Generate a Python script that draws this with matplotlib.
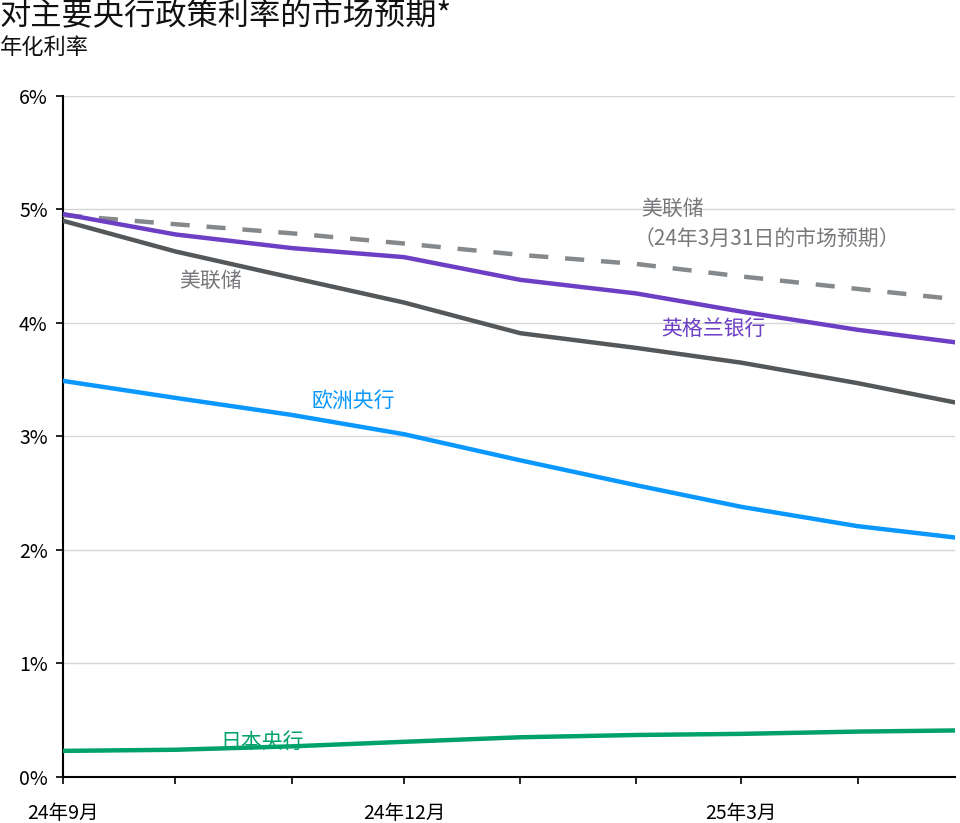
import matplotlib
matplotlib.use('Agg')
import matplotlib.pyplot as plt
import matplotlib.ticker as mticker
import pandas as pd

plt.rcParams['font.family'] = ['Noto Sans CJK SC', 'DejaVu Sans']

# month starts plus the last observation
dates = pd.to_datetime(['2024-09-01', '2024-10-01', '2024-11-01', '2024-12-01',
                        '2025-01-01', '2025-02-01', '2025-03-01', '2025-04-01',
                        '2025-04-27'])
fed = [4.90, 4.63, 4.40, 4.18, 3.91, 3.78, 3.65, 3.47, 3.30]
fed_mar24 = [4.95, 4.87, 4.79, 4.70, 4.60, 4.52, 4.41, 4.30, 4.21]
boe = [4.96, 4.78, 4.66, 4.58, 4.38, 4.26, 4.10, 3.94, 3.83]
ecb = [3.49, 3.34, 3.19, 3.02, 2.79, 2.57, 2.38, 2.21, 2.11]
boj = [0.23, 0.24, 0.27, 0.31, 0.35, 0.37, 0.38, 0.40, 0.41]

yticks = [0, 1, 2, 3, 4, 5, 6]
month_ticks = pd.date_range('2024-09-01', '2025-04-01', freq='MS')
labelled = {'2024-09': '24年9月', '2024-12': '24年12月', '2025-03': '25年3月'}

c_fed = '#54585a'
c_fed_old = '#86898b'
c_boe = '#6c3fc4'
c_ecb = '#0a98ff'
c_boj = '#00a26b'
c_note = '#77787b'

fig = plt.figure(figsize=(9.6, 8.23), dpi=100)
ax = fig.add_axes([0.0656, 0.0559, 0.9292, 0.8275])

ax.plot(dates, fed_mar24, color=c_fed_old, lw=3.2, dashes=(4.3, 3.8), zorder=3)
ax.plot(dates, boe, color=c_boe, lw=3.2, zorder=4)
ax.plot(dates, fed, color=c_fed, lw=3.2, zorder=4)
ax.plot(dates, ecb, color=c_ecb, lw=3.2, zorder=4)
ax.plot(dates, boj, color=c_boj, lw=3.2, zorder=4)

ax.set_ylim(0, 6)
ax.set_xlim(dates[0], dates[-1])
ax.set_yticks(yticks)
ax.yaxis.set_major_formatter(mticker.FuncFormatter(lambda v, p: f'{v:.0f}%'))
ax.grid(axis='y', color='#d6d6d6', lw=1)
ax.set_axisbelow(True)

ax.set_xticks(month_ticks)
ax.set_xticklabels([labelled.get(d.strftime('%Y-%m'), '') for d in month_ticks])

for s in ['top', 'right']:
    ax.spines[s].set_visible(False)
for s in ['left', 'bottom']:
    ax.spines[s].set_color('black')
    ax.spines[s].set_linewidth(1.5)
ax.tick_params(axis='both', length=5, width=1.2, color='black', labelsize=14)
ax.tick_params(axis='x', pad=14)
ax.tick_params(axis='y', pad=6)

# direct labels
fs = 15
ax.text(0.165, 0.728, '美联储', transform=ax.transAxes, color=c_note,
        fontsize=fs, ha='center', va='center')
ax.text(0.683, 0.834, '美联储', transform=ax.transAxes, color=c_note,
        fontsize=fs, ha='center', va='center')
ax.text(0.789, 0.789, '（24年3月31日的市场预期）', transform=ax.transAxes,
        color=c_note, fontsize=fs, ha='center', va='center')
ax.text(0.729, 0.658, '英格兰银行', transform=ax.transAxes, color=c_boe,
        fontsize=fs, ha='center', va='center')
ax.text(0.325, 0.552, '欧洲央行', transform=ax.transAxes, color=c_ecb,
        fontsize=fs, ha='center', va='center')
ax.text(0.223, 0.051, '日本央行', transform=ax.transAxes, color=c_boj,
        fontsize=fs, ha='center', va='center')

fig.text(0.0, 1 - 16 / 823, '对主要央行政策利率的市场预期*', fontsize=22.5,
         ha='left', va='center', color='#111111')
fig.text(0.0, 1 - 47 / 823, '年化利率', fontsize=16, ha='left', va='center',
         color='#111111')

fig.savefig('out.png', dpi=100)
